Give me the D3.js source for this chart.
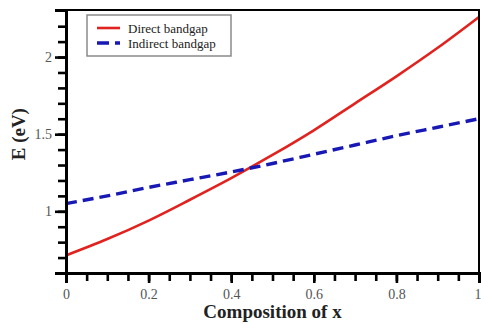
<!DOCTYPE html>
<html>
<head>
<meta charset="utf-8">
<script src="https://cdn.jsdelivr.net/npm/d3@7"></script>
<style>
  html, body { margin: 0; padding: 0; background: #fff; }
  svg { display: block; }
</style>
</head>
<body>
<svg id="chart" width="481" height="324"></svg>
<script>
// Composition x of the alloy
const composition = [0, 0.1, 0.2, 0.3, 0.4, 0.5, 0.6, 0.7, 0.8, 0.9, 1.0];
// Band gap energies (eV)
const directGap   = [0.714, 0.82, 0.94, 1.075, 1.215, 1.365, 1.525, 1.70, 1.875, 2.06, 2.26];
const indirectGap = [1.05, 1.10, 1.155, 1.205, 1.255, 1.31, 1.37, 1.43, 1.49, 1.545, 1.60];

const seriesNames = ["Direct bandgap", "Indirect bandgap"];
const xMajorTicks = [0, 0.2, 0.4, 0.6, 0.8, 1];
const yMajorTicks = [1, 1.5, 2];

const svg = d3.select("#chart");
const margin = { left: 66, right: 2, top: 10, bottom: 51 };
const W = 481, H = 324;

const x = d3.scaleLinear().domain([0, 1]).range([margin.left, W - margin.right]);
const y = d3.scaleLinear().domain([0.6, 2.305]).range([H - margin.bottom, margin.top]);

const serif = "Liberation Serif, Times New Roman, serif";

// Data lines
const line = d3.line()
  .x((d, i) => x(composition[i]))
  .y(d => y(d))
  .curve(d3.curveMonotoneX);

svg.append("path")
  .attr("d", line(directGap))
  .attr("fill", "none")
  .attr("stroke", "#e0231f")
  .attr("stroke-width", 2.6);

svg.append("path")
  .attr("d", line(indirectGap))
  .attr("fill", "none")
  .attr("stroke", "#1818b4")
  .attr("stroke-width", 3.4)
  .attr("stroke-dasharray", "11,6");

// Frame (top and right)
svg.append("line")
  .attr("x1", x(0)).attr("x2", x(1) + 1)
  .attr("y1", y(2.305)).attr("y2", y(2.305))
  .attr("stroke", "#000").attr("stroke-width", 2);
svg.append("line")
  .attr("x1", x(1)).attr("x2", x(1))
  .attr("y1", y(2.305)).attr("y2", y(0.6))
  .attr("stroke", "#000").attr("stroke-width", 2);

// X axis: minor ticks every 0.05, labelled every 0.2
const xAxisG = svg.append("g").attr("transform", `translate(0,${y(0.6)})`);
xAxisG.call(d3.axisBottom(x).tickValues(d3.range(0, 1.0001, 0.05)).tickSize(8).tickFormat(""));
xAxisG.append("g").call(d3.axisBottom(x).tickValues(xMajorTicks).tickSize(10).tickPadding(6)
  .tickFormat(d => d === 0 ? "0" : d3.format("~g")(d)));
xAxisG.selectAll(".domain").attr("stroke", "#000").attr("stroke-width", 3);
xAxisG.selectAll(".tick line").attr("stroke", "#000").attr("stroke-width", 2.6);
xAxisG.selectAll(".tick text")
  .attr("font-family", serif).attr("font-size", 14).attr("fill", "#555");
// keep the last label inside the page
xAxisG.selectAll(".tick text").filter(d => d === 1).attr("text-anchor", "end").attr("dx", 2);

// Y axis: minor ticks every 0.1, labelled every 0.5
const yAxisG = svg.append("g").attr("transform", `translate(${x(0)},0)`);
yAxisG.call(d3.axisLeft(y).tickValues(d3.range(0.6, 2.3, 0.1)).tickSize(8).tickFormat(""));
yAxisG.append("g").call(d3.axisLeft(y).tickValues(yMajorTicks).tickSize(11).tickPadding(3)
  .tickFormat(d3.format("~g")));
yAxisG.selectAll(".domain").attr("stroke", "#000").attr("stroke-width", 3);
yAxisG.selectAll(".tick line").attr("stroke", "#000").attr("stroke-width", 2.6);
yAxisG.selectAll(".tick text")
  .attr("font-family", serif).attr("font-size", 14).attr("fill", "#555");

// Axis titles
svg.append("text")
  .attr("x", (x(0) + x(1)) / 2).attr("y", 318)
  .attr("text-anchor", "middle")
  .attr("font-family", serif).attr("font-weight", "bold").attr("font-size", 19)
  .attr("fill", "#222")
  .text("Composition of x");

svg.append("text")
  .attr("transform", `translate(25,${y(1.5)}) rotate(-90)`)
  .attr("text-anchor", "middle")
  .attr("font-family", serif).attr("font-weight", "bold").attr("font-size", 19)
  .attr("fill", "#222")
  .text("E (eV)");

// Legend
const legend = svg.append("g").attr("transform", "translate(87,15)");
legend.append("rect")
  .attr("width", 144).attr("height", 41)
  .attr("fill", "#fff").attr("stroke", "#8a8a8a").attr("stroke-width", 1.5);
const styles = [
  { color: "#e0231f", width: 2.6, dash: null },
  { color: "#1818b4", width: 3.4, dash: "12,6" }
];
seriesNames.forEach((name, i) => {
  const row = legend.append("g").attr("transform", `translate(0,${13 + i * 15})`);
  row.append("line")
    .attr("x1", 10).attr("x2", 33).attr("y1", 0).attr("y2", 0)
    .attr("stroke", styles[i].color).attr("stroke-width", styles[i].width)
    .attr("stroke-dasharray", styles[i].dash);
  row.append("text")
    .attr("x", 41).attr("y", 4.5)
    .attr("font-family", serif).attr("font-size", 13).attr("fill", "#222")
    .text(name);
});
</script>
</body>
</html>
